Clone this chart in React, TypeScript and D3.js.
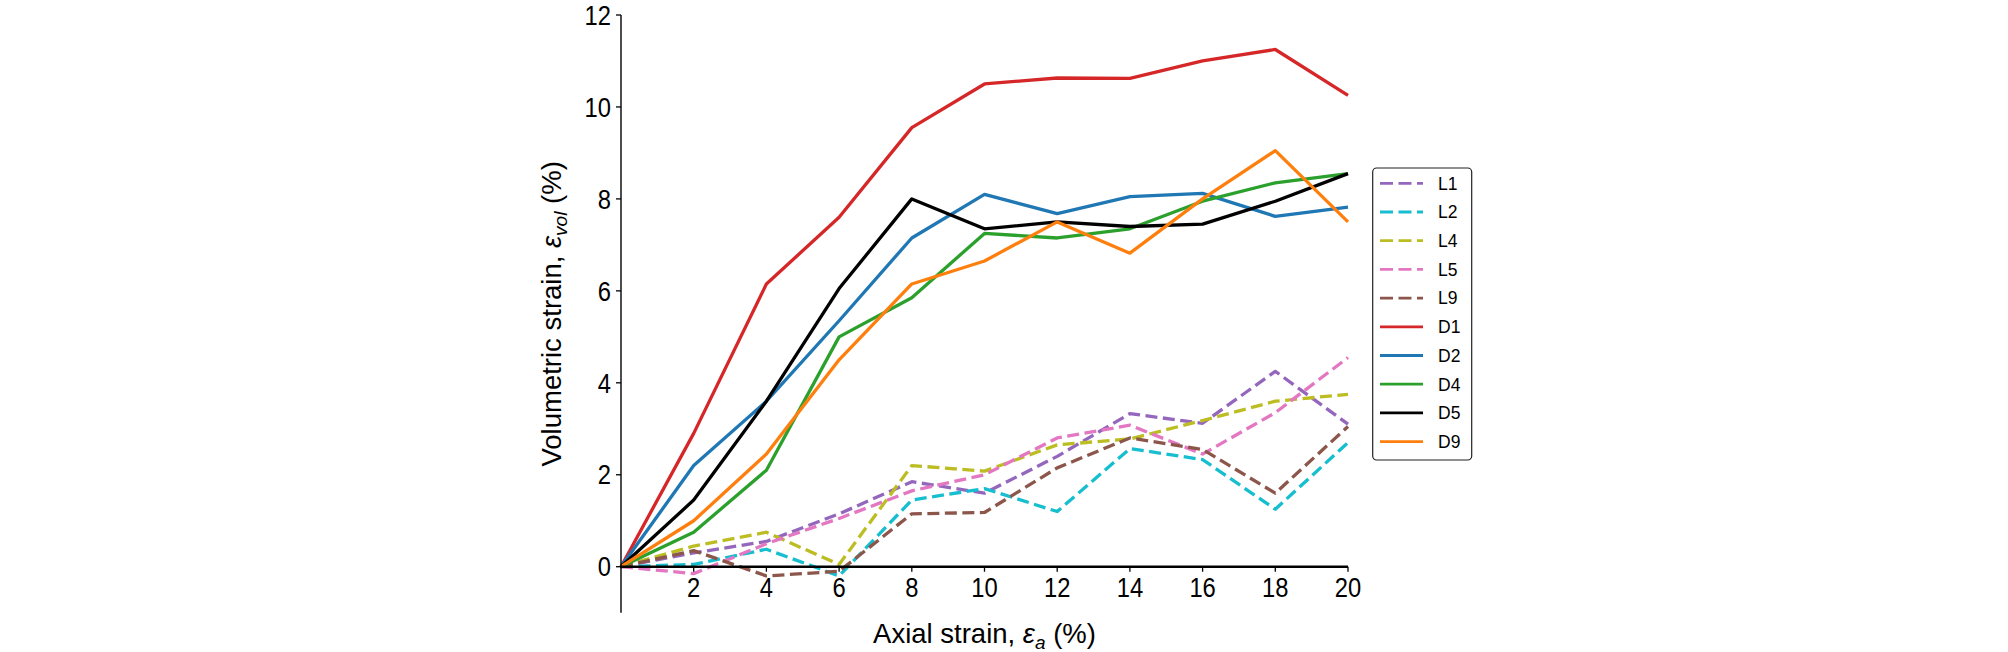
import React, { useEffect, useRef } from "react";
import * as d3 from "d3";

const xValues = [0, 2, 4, 6, 8, 10, 12, 14, 16, 18, 20];
const seriesNames = ["L1", "L2", "L4", "L5", "L9", "D1", "D2", "D4", "D5", "D9"];
const L1 = [0, 0.3, 0.55, 1.15, 1.85, 1.6, 2.4, 3.33, 3.12, 4.25, 3.1];
const L2 = [0, 0.05, 0.38, -0.2, 1.45, 1.7, 1.2, 2.57, 2.33, 1.25, 2.7];
const L4 = [0, 0.45, 0.75, 0.05, 2.2, 2.08, 2.65, 2.78, 3.18, 3.6, 3.75];
const L5 = [0, -0.15, 0.5, 1.05, 1.65, 2.0, 2.8, 3.08, 2.45, 3.35, 4.55];
const L9 = [0, 0.35, -0.2, -0.1, 1.15, 1.18, 2.15, 2.8, 2.55, 1.6, 3.05];
const D1 = [0, 2.9, 6.15, 7.6, 9.55, 10.5, 10.63, 10.62, 11.0, 11.25, 10.25];
const D2 = [0, 2.2, 3.6, 5.35, 7.15, 8.1, 7.68, 8.05, 8.12, 7.62, 7.82];
const D4 = [0, 0.75, 2.1, 5.0, 5.85, 7.25, 7.15, 7.35, 7.95, 8.35, 8.55];
const D5 = [0, 1.45, 3.6, 6.05, 8.0, 7.35, 7.5, 7.4, 7.45, 7.95, 8.55];
const D9 = [0, 1.0, 2.45, 4.5, 6.15, 6.65, 7.5, 6.82, 8.0, 9.05, 7.5];
const seriesValues = [L1, L2, L4, L5, L9, D1, D2, D4, D5, D9];
const seriesColors = ["#9467bd", "#17becf", "#bcbd22", "#e377c2", "#8c564b", "#d62728", "#1f77b4", "#2ca02c", "#000000", "#ff7f0e"];
const seriesDashed = [true, true, true, true, true, false, false, false, false, false];
const xTicks = [2, 4, 6, 8, 10, 12, 14, 16, 18, 20];
const yTicks = [0, 2, 4, 6, 8, 10, 12];

const W = 2008;
const H = 652;
const FONT = "'Liberation Sans', Arial, sans-serif";

export default function App() {
  const ref = useRef<SVGSVGElement>(null);

  useEffect(() => {
    const svg = d3.select(ref.current);
    svg.selectAll("*").remove();

    const x = d3.scaleLinear().domain([0, 20]).range([621, 1348]);
    const y = d3.scaleLinear().domain([-1, 12]).range([612.7, 15]);

    const line = d3
      .line<number>()
      .x((_, i) => x(xValues[i]))
      .y((d) => y(d));

    const g = svg.append("g");
    seriesValues.forEach((vals, k) => {
      g.append("path")
        .attr("d", line(vals) as string)
        .attr("fill", "none")
        .attr("stroke", seriesColors[k])
        .attr("stroke-width", 3.3)
        .attr("stroke-linejoin", "round")
        .attr("stroke-dasharray", seriesDashed[k] ? "12,5.5" : null);
    });

    // y axis spine
    svg
      .append("line")
      .attr("x1", x(0))
      .attr("x2", x(0))
      .attr("y1", y(-1))
      .attr("y2", y(12))
      .attr("stroke", "#000")
      .attr("stroke-width", 1.4);

    // x axis line at y=0
    svg
      .append("line")
      .attr("x1", x(0) - 1)
      .attr("x2", x(20))
      .attr("y1", y(0))
      .attr("y2", y(0))
      .attr("stroke", "#000")
      .attr("stroke-width", 2.4);

    // y ticks
    yTicks.forEach((t) => {
      svg
        .append("line")
        .attr("x1", x(0) - 5)
        .attr("x2", x(0))
        .attr("y1", y(t))
        .attr("y2", y(t))
        .attr("stroke", "#000")
        .attr("stroke-width", 1.3);
      svg
        .append("text")
        .attr("transform", `translate(${x(0) - 10},${y(t)}) scale(0.88,1)`)
        .attr("dy", "0.36em")
        .attr("text-anchor", "end")
        .attr("font-family", FONT)
        .attr("font-size", 27)
        .attr("fill", "#000")
        .text(String(t));
    });

    // x ticks
    xTicks.forEach((t) => {
      svg
        .append("line")
        .attr("x1", x(t))
        .attr("x2", x(t))
        .attr("y1", y(0))
        .attr("y2", y(0) + 5)
        .attr("stroke", "#000")
        .attr("stroke-width", 1.3);
      svg
        .append("text")
        .attr("transform", `translate(${x(t)},597) scale(0.88,1)`)
        .attr("text-anchor", "middle")
        .attr("font-family", FONT)
        .attr("font-size", 27)
        .attr("fill", "#000")
        .text(String(t));
    });

    // x axis title
    const xt = svg
      .append("text")
      .attr("x", (x(0) + x(20)) / 2)
      .attr("y", 643)
      .attr("text-anchor", "middle")
      .attr("font-family", FONT)
      .attr("font-size", 27.5)
      .attr("fill", "#000");
    xt.append("tspan").text("Axial strain, ");
    xt.append("tspan").attr("font-style", "italic").text("ε");
    xt.append("tspan").attr("font-style", "italic").attr("font-size", 19).attr("dy", 6).text("a");
    xt.append("tspan").attr("dy", -6).text(" (%)");

    // y axis title
    const yt = svg
      .append("text")
      .attr("transform", `translate(561,${(y(-1) + y(12)) / 2}) rotate(-90)`)
      .attr("text-anchor", "middle")
      .attr("font-family", FONT)
      .attr("font-size", 27.5)
      .attr("fill", "#000");
    yt.append("tspan").text("Volumetric strain, ");
    yt.append("tspan").attr("font-style", "italic").text("ε");
    yt.append("tspan").attr("font-style", "italic").attr("font-size", 19).attr("dy", 6).text("vol");
    yt.append("tspan").attr("dy", -6).text(" (%)");

    // legend
    const lg = svg.append("g");
    lg.append("rect")
      .attr("x", 1372.7)
      .attr("y", 168)
      .attr("width", 99)
      .attr("height", 292)
      .attr("rx", 4)
      .attr("fill", "#fff")
      .attr("stroke", "#222")
      .attr("stroke-width", 1.2);
    seriesNames.forEach((name, k) => {
      const cy = 183.3 + k * 28.7;
      lg.append("line")
        .attr("x1", 1380)
        .attr("x2", 1423)
        .attr("y1", cy)
        .attr("y2", cy)
        .attr("stroke", seriesColors[k])
        .attr("stroke-width", 2.8)
        .attr("stroke-dasharray", seriesDashed[k] ? "13,5.5" : null);
      lg.append("text")
        .attr("x", 1438)
        .attr("y", cy)
        .attr("dy", "0.36em")
        .attr("font-family", FONT)
        .attr("font-size", 17.5)
        .attr("fill", "#000")
        .text(name);
    });
  }, []);

  return (
    <svg
      ref={ref}
      width={W}
      height={H}
      style={{ position: "absolute", left: 0, top: 0, background: "#fff" }}
    />
  );
}
